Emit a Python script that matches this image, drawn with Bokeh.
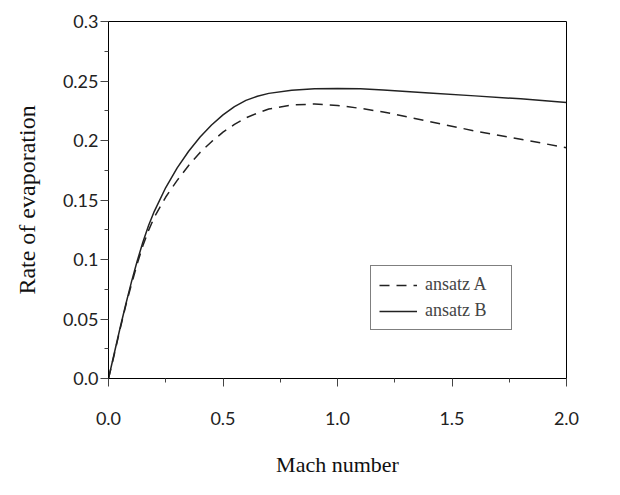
from bokeh.plotting import figure
from bokeh.models import FixedTicker, Legend, LegendItem
from bokeh.embed import file_html
from bokeh.resources import INLINE

mach = [0.0, 0.025, 0.05, 0.075, 0.1, 0.125, 0.15, 0.175, 0.2, 0.25, 0.3, 0.35,
        0.4, 0.45, 0.5, 0.55, 0.6, 0.65, 0.7, 0.8, 0.9, 1.0, 1.1, 1.2, 1.4, 1.6,
        1.8, 2.0]
ansatz_a = [0.0, 0.020, 0.041, 0.061, 0.079, 0.096, 0.1115, 0.1245, 0.1355, 0.1525,
            0.1665, 0.179, 0.190, 0.199, 0.207, 0.2135, 0.219, 0.223, 0.2265, 0.2298,
            0.2307, 0.2295, 0.227, 0.224, 0.216, 0.208, 0.201, 0.194]
ansatz_b = [0.0, 0.021, 0.042, 0.062, 0.081, 0.0985, 0.1145, 0.1285, 0.1405, 0.1605,
            0.177, 0.191, 0.203, 0.213, 0.2215, 0.2285, 0.2337, 0.2372, 0.2396, 0.2423,
            0.2435, 0.2438, 0.2434, 0.2425, 0.240, 0.2375, 0.235, 0.232]

y_ticks = [0.0, 0.05, 0.1, 0.15, 0.2, 0.25, 0.3]
y_labels = ["0.0", "0.05", "0.1", "0.15", "0.2", "0.25", "0.3"]
y_minor = [0.025, 0.075, 0.125, 0.175, 0.225, 0.275]
x_ticks = [0.0, 0.5, 1.0, 1.5, 2.0]
x_labels = ["0.0", "0.5", "1.0", "1.5", "2.0"]
x_minor = [0.25, 0.75, 1.25, 1.75]

p = figure(width=604, height=479, output_backend="svg", toolbar_location=None,
           x_range=(0, 2), y_range=(0, 0.3),
           min_border_left=108, min_border_right=38, min_border_top=21, min_border_bottom=101)
p.grid.visible = False
p.outline_line_color = "black"
p.outline_line_width = 1
p.background_fill_color = "white"
p.border_fill_color = "white"

p.xaxis.ticker = FixedTicker(ticks=x_ticks, minor_ticks=x_minor)
p.yaxis.ticker = FixedTicker(ticks=y_ticks, minor_ticks=y_minor)
p.xaxis.major_label_overrides = {t: l for t, l in zip(x_ticks, x_labels)}
p.yaxis.major_label_overrides = {t: l for t, l in zip(y_ticks, y_labels)}

for ax in (p.xaxis, p.yaxis):
    ax.axis_line_color = "black"
    ax.major_tick_line_color = "#444444"
    ax.minor_tick_line_color = "#444444"
    ax.major_tick_in = 0
    ax.major_tick_out = 8
    ax.minor_tick_in = 0
    ax.minor_tick_out = 4
    ax.major_label_text_font = "Lato"
    ax.major_label_text_font_size = "18px"
    ax.major_label_text_color = "#222222"
    ax.axis_label_text_font = "Liberation Serif"
    ax.axis_label_text_font_style = "normal"
    ax.axis_label_text_color = "#111111"

p.xaxis.axis_label = "Mach number"
p.yaxis.axis_label = "Rate of evaporation"
p.xaxis.axis_label_text_font_size = "22px"
p.yaxis.axis_label_text_font_size = "24px"
p.xaxis.major_label_standoff = 25
p.yaxis.major_label_standoff = 2
p.xaxis.axis_label_standoff = 24
p.yaxis.axis_label_standoff = 20

ra = p.line(mach, ansatz_a, line_color="#222222", line_width=1.5, line_dash="10 7")
rb = p.line(mach, ansatz_b, line_color="#222222", line_width=1.5)

legend = Legend(items=[LegendItem(label="ansatz A", renderers=[ra]),
                       LegendItem(label="ansatz B", renderers=[rb])],
                location=(262, 48))
legend.border_line_color = "black"
legend.border_line_width = 1
legend.background_fill_alpha = 1
legend.label_text_font = "Liberation Serif"
legend.label_text_font_size = "18px"
legend.glyph_width = 38
legend.glyph_height = 20
legend.label_height = 20
legend.label_width = 78
legend.label_standoff = 8
legend.padding = 8
legend.spacing = 5
legend.margin = 0
p.add_layout(legend, "center")

open("out.html", "w").write(file_html(p, INLINE))
